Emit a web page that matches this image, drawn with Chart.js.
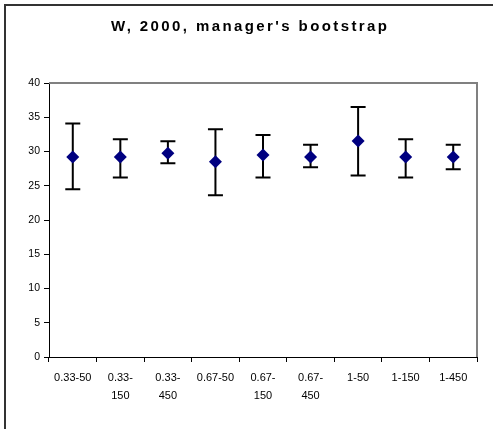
<!DOCTYPE html>
<html>
<head>
<meta charset="utf-8">
<script src="https://cdn.jsdelivr.net/npm/chart.js@4.4.1/dist/chart.umd.min.js"></script>
<style>
  html, body { margin: 0; padding: 0; background: #fff; }
  canvas { display: block; }
</style>
</head>
<body>
<canvas id="myChart" width="493" height="429"></canvas>
<script>
// categories (alpha-N) and the bootstrap mean with its interval
const categories = ['0.33-50', ['0.33-', '150'], ['0.33-', '450'], '0.67-50', ['0.67-', '150'], ['0.67-', '450'], '1-50', '1-150', '1-450'];
const means = [29.2, 29.2, 29.75, 28.5, 29.5, 29.2, 31.55, 29.2, 29.2];
const upper = [34.1, 31.8, 31.5, 33.25, 32.4, 31.0, 36.5, 31.8, 31.0];
const lower = [24.5, 26.2, 28.3, 23.6, 26.2, 27.7, 26.5, 26.2, 27.4];
const yTicks = [0, 5, 10, 15, 20, 25, 30, 35, 40];
const titleText = "W, 2000, manager's bootstrap";

// frame, title, plot border and whiskers
const decor = {
    id: 'decor',
    beforeDraw(chart) {
        const ctx = chart.ctx;
        ctx.save();
        ctx.fillStyle = '#fff';
        ctx.fillRect(0, 0, chart.width, chart.height);
        ctx.strokeStyle = '#333';
        ctx.lineWidth = 2;
        ctx.beginPath();
        ctx.moveTo(5, chart.height);
        ctx.lineTo(5, 5);
        ctx.lineTo(chart.width, 5);
        ctx.stroke();

        // spaced-out bold title, spread over 111..387
        ctx.fillStyle = '#000';
        ctx.font = 'bold 15px "Liberation Sans", Arial, sans-serif';
        const natural = ctx.measureText(titleText).width;
        const gap = (276 - natural) / (titleText.length - 1);
        ctx.letterSpacing = gap.toFixed(2) + 'px';
        ctx.textBaseline = 'middle';
        ctx.textAlign = 'left';
        ctx.fillText(titleText, 111, 27);
        ctx.restore();
    },
    beforeDatasetsDraw(chart) {
        const ctx = chart.ctx;
        const x = chart.scales.x, y = chart.scales.y;
        const area = chart.chartArea;
        ctx.save();
        ctx.strokeStyle = '#808080';
        ctx.lineWidth = 2;
        ctx.beginPath();
        ctx.moveTo(area.left, area.top);
        ctx.lineTo(area.right, area.top);
        ctx.lineTo(area.right, area.bottom);
        ctx.stroke();

        ctx.strokeStyle = '#000';
        ctx.lineWidth = 2;
        for (let i = 0; i < means.length; i++) {
            const px = x.getPixelForValue(i);
            const hi = y.getPixelForValue(upper[i]);
            const lo = y.getPixelForValue(lower[i]);
            ctx.beginPath();
            ctx.moveTo(px, hi); ctx.lineTo(px, lo);
            ctx.moveTo(px - 7.5, hi); ctx.lineTo(px + 7.5, hi);
            ctx.moveTo(px - 7.5, lo); ctx.lineTo(px + 7.5, lo);
            ctx.stroke();
        }
        ctx.restore();
    }
};

const ctx = document.getElementById('myChart').getContext('2d');
const myChart = new Chart(ctx, {
    type: 'line',
    data: {
        labels: categories,
        datasets: [{
            data: means,
            showLine: false,
            pointStyle: 'rectRot',
            pointRadius: 6.5,
            pointHoverRadius: 6.5,
            backgroundColor: '#000080',
            borderColor: '#000080',
            borderWidth: 0
        }]
    },
    options: {
        responsive: false,
        animation: false,
        events: [],
        layout: { padding: { left: 0, top: 83, right: 16, bottom: 0 } },
        plugins: {
            legend: { display: false },
            title: { display: false },
            tooltip: { enabled: false }
        },
        scales: {
            x: {
                offset: true,
                grid: { offset: true, drawOnChartArea: false, drawTicks: true, tickLength: 5, color: '#000' },
                border: { color: '#000', width: 1 },
                ticks: {
                    color: '#000',
                    maxRotation: 0,
                    autoSkip: false,
                    padding: 7,
                    font: { family: '"Liberation Sans", Arial, sans-serif', size: 11, lineHeight: 1.65 }
                },
                afterFit(scale) { scale.height = 72; }
            },
            y: {
                min: 0,
                max: 40,
                afterBuildTicks(scale) { scale.ticks = yTicks.map(v => ({ value: v })); },
                grid: { drawOnChartArea: false, drawTicks: true, tickLength: 5, color: '#000' },
                border: { color: '#000', width: 1 },
                ticks: {
                    color: '#000',
                    padding: 4,
                    font: { family: '"Liberation Sans", Arial, sans-serif', size: 10.5 }
                },
                afterFit(scale) { scale.width = 49; }
            }
        }
    },
    plugins: [decor]
});
</script>
</body>
</html>
